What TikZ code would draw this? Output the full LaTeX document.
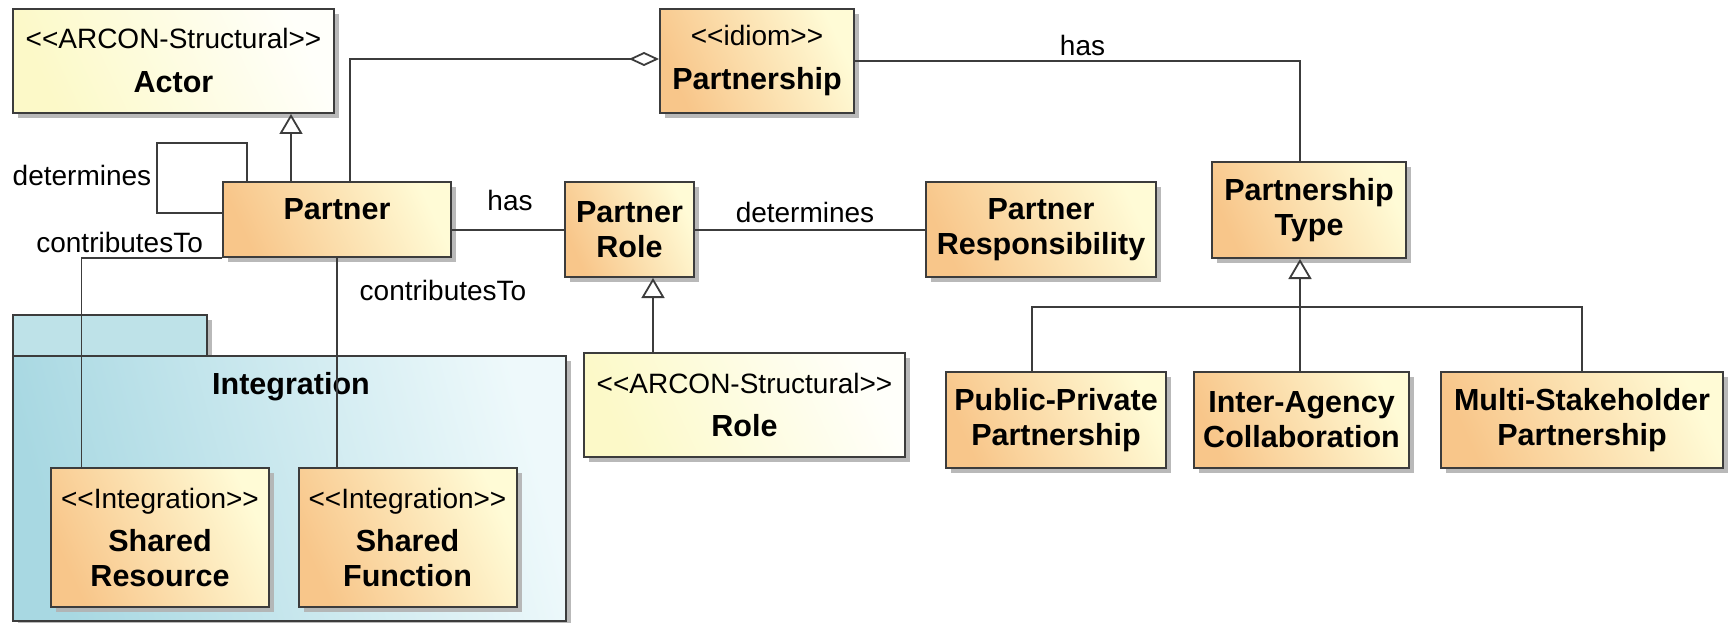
\documentclass[tikz,border=0pt]{standalone}
\usepackage{fontspec}
\setmainfont{Liberation Sans}
\usetikzlibrary{arrows.meta,shadows}

\definecolor{lineC}{RGB}{60,60,60}
\definecolor{clsL}{RGB}{248,198,138}
\definecolor{clsR}{RGB}{255,251,214}
\definecolor{paleL}{RGB}{252,249,200}
\definecolor{paleR}{RGB}{255,255,250}
\definecolor{pkgL}{RGB}{168,216,226}
\definecolor{pkgR}{RGB}{238,249,251}
\definecolor{tabC}{RGB}{190,226,232}
\definecolor{shadowC}{RGB}{178,178,178}

\newcommand\umlst{\fontsize{28}{35}\selectfont\mdseries}
\newcommand\umlnm{\fontsize{30.5}{35}\selectfont\bfseries}

\tikzset{
  shd/.style={drop shadow={shadow xshift=5pt, shadow yshift=-5pt, fill=shadowC, opacity=0.9}},
  cls/.style={rectangle, draw=lineC, line width=2pt, shd,
    left color=clsL, right color=clsR, shading angle=115,
    inner sep=0pt, align=center, font=\umlnm},
  pale/.style={left color=paleL, right color=paleR, shading angle=115},
  pkgbox/.style={rectangle, draw=lineC, line width=2pt, shd, inner sep=0pt,
    left color=pkgL, right color=pkgR, shading angle=105},
  pkgtab/.style={rectangle, draw=lineC, line width=2pt, shd, inner sep=0pt, fill=tabC},
  lbl/.style={inner sep=0pt, font=\umlst},
  conn/.style={draw=lineC, line width=1.8pt},
  gen/.style={conn, -{Triangle[open, length=20pt, width=23pt, line width=1.8pt]}},
  agg/.style={conn, {Diamond[open, length=30pt, width=14pt, line width=1.8pt]}-},
}

\begin{document}
\begin{tikzpicture}[x=1pt, y=-1pt]
\useasboundingbox[fill=white] (0,0) rectangle (1729,623);

% column and row guides for the orthogonal connectors
\coordinate (xgenA) at (291,0);
\coordinate (xagg)  at (350,0);
\coordinate (xloop) at (247,0);
\coordinate (xsr)   at (81.5,0);
\coordinate (xsf)   at (337,0);
\coordinate (xgenR) at (653,0);
\coordinate (xt1)   at (1032,0);
\coordinate (xt2)   at (1300,0);
\coordinate (xt3)   at (1582,0);
\coordinate (yagg)  at (0,59);
\coordinate (yhas)  at (0,230);
\coordinate (ybar)  at (0,307);
\coordinate (yloop) at (0,213);

% Integration package
\node[pkgtab, minimum width=194pt, minimum height=41pt] (pkgtab) at (110,335.5) {};
\node[pkgbox, minimum width=553pt, minimum height=265pt] (pkg) at (289.5,488.5) {};
\node[lbl, font=\umlnm] (pkgname) at (291,387) {Integration};

% classes
\node[cls, pale, minimum width=321pt, minimum height=104pt] (actor) at (173.5,61)
  {{\umlst <{}<ARCON-Structural>{}>}\\[9pt]Actor};
\node[cls, minimum width=194pt, minimum height=104pt] (pship) at (757,61)
  {{\umlst <{}<idiom>{}>}\\[9pt]Partnership};
\node[cls, minimum width=228pt, minimum height=75pt, text height=20pt, text depth=20pt]
  (partner) at (337,219.5) {Partner};
\node[cls, minimum width=129pt, minimum height=95pt] (prole) at (629.5,229.5) {Partner\\Role};
\node[cls, minimum width=230pt, minimum height=95pt] (presp) at (1041,229.5) {Partner\\Responsibility};
\node[cls, minimum width=194pt, minimum height=96pt] (ptype) at (1309,210) {Partnership\\Type};
\node[cls, pale, minimum width=321pt, minimum height=104pt] (role) at (744.5,405)
  {{\umlst <{}<ARCON-Structural>{}>}\\[8pt]Role};
\node[cls, minimum width=218pt, minimum height=139pt] (sres) at (160,537.5)
  {{\umlst <{}<Integration>{}>}\\[8pt]Shared\\Resource};
\node[cls, minimum width=218pt, minimum height=139pt] (sfun) at (407.5,537.5)
  {{\umlst <{}<Integration>{}>}\\[8pt]Shared\\Function};
\node[cls, minimum width=220pt, minimum height=96pt] (ppp) at (1056,420) {Public-Private\\Partnership};
\node[cls, minimum width=215pt, minimum height=96pt] (iac) at (1301.5,420) {Inter-Agency\\Collaboration};
\node[cls, minimum width=282pt, minimum height=96pt] (msp) at (1582,420) {Multi-Stakeholder\\Partnership};

% generalizations
\draw[gen] (partner.north -| xgenA) -- (actor.south -| xgenA);
\draw[gen] (role.north -| xgenR) -- (prole.south -| xgenR);
\draw[gen] (iac.north -| xt2) -- (ptype.south -| xt2);
\draw[conn] (ppp.north -| xt1) -- (xt1 |- ybar) -- (xt3 |- ybar) -- (msp.north -| xt3);

% aggregation and associations
\draw[agg] (pship.west |- yagg) -| (partner.north -| xagg);
\draw[conn] (pship.east) -| (ptype.north -| xt2);
\draw[conn] (partner.east |- yhas) -- (prole.west |- yhas);
\draw[conn] (prole.east |- yhas) -- (presp.west |- yhas);
\draw[conn] (partner.north -| xloop) -- ++(0,-38) -| (157,213) -- (partner.west |- yloop);
\draw[conn] (partner.south west) -- (partner.south west -| xsr) -- (sres.north -| xsr);
\draw[conn] (partner.south -| xsf) -- (sfun.north -| xsf);

% association labels
\node[lbl] (lblDetSelf) at (82,175) {determines};
\node[lbl] (lblContA) at (119.6,242) {contributesTo};
\node[lbl] (lblContB) at (443,290) {contributesTo};
\node[lbl] (lblHasA) at (510,200) {has};
\node[lbl] (lblDet) at (805,212) {determines};
\node[lbl] (lblHasB) at (1082.5,45) {has};
\end{tikzpicture}
\end{document}
